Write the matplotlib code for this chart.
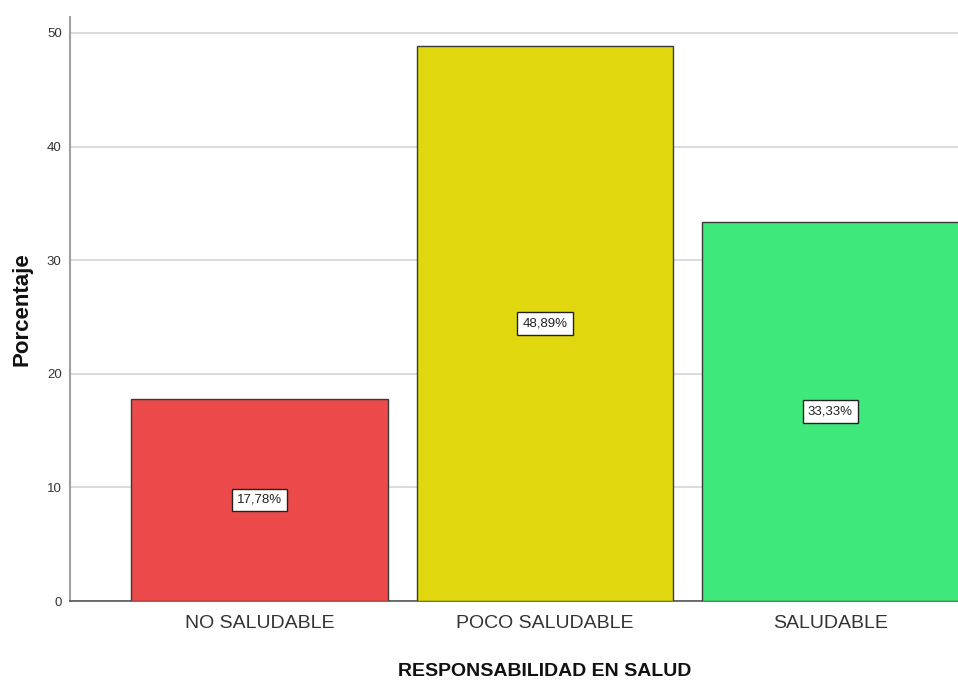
import matplotlib
matplotlib.use("Agg")
import matplotlib.pyplot as plt

# data
categories = ["NO SALUDABLE", "POCO SALUDABLE", "SALUDABLE"]
percentages = [17.78, 48.89, 33.33]
bar_colors = ["#EC4A4A", "#E1D70E", "#3FE87B"]
y_ticks = [0, 10, 20, 30, 40, 50]

FONT = "Liberation Sans"

fig = plt.figure(figsize=(9.58, 6.84), dpi=100)
ax = fig.add_axes([70 / 958, 1 - 601 / 684, 1 - 70 / 958, (601 - 17) / 684])

x = list(range(len(categories)))
ax.bar(x, percentages, width=0.9, color=bar_colors,
       edgecolor="#3a3a3a", linewidth=1.0, zorder=3)

# value boxes in the middle of each bar
for xi, v in zip(x, percentages):
    ax.text(xi, v / 2, f"{v:.2f}%".replace(".", ","), ha="center", va="center",
            fontsize=9.5, family=FONT, color="#222222", zorder=4,
            bbox=dict(boxstyle="square,pad=0.4", fc="white", ec="#222222", lw=1.0))

ax.set_xlim(-0.664, 2.447)
ax.set_ylim(0, 51.4)
ax.set_yticks(y_ticks)
ax.set_yticklabels([str(t) for t in y_ticks], fontsize=9.5, family=FONT, color="#333333")
ax.set_xticks(x)
ax.set_xticklabels(categories, fontsize=14, family=FONT, color="#333333")
ax.tick_params(axis="both", length=0, pad=6)
ax.tick_params(axis="x", pad=10)

ax.yaxis.grid(True, color="#d4d4d4", linewidth=1.2, zorder=0)
ax.set_axisbelow(True)

for s in ["top", "right"]:
    ax.spines[s].set_visible(False)
ax.spines["left"].set_color("#a0a0a0")
ax.spines["left"].set_linewidth(1.5)
ax.spines["bottom"].set_color("#555555")
ax.spines["bottom"].set_linewidth(1.2)

ax.set_xlabel("RESPONSABILIDAD EN SALUD", fontsize=14, fontweight="bold",
              family=FONT, color="#111111")
# the title sits under the middle category, not the axes centre
ax.xaxis.set_label_coords((545 - 70) / 888, -0.107)
ax.set_ylabel("Porcentaje", fontsize=16, fontweight="bold",
              family=FONT, color="#111111", labelpad=10)

fig.savefig("out.png", dpi=100)
